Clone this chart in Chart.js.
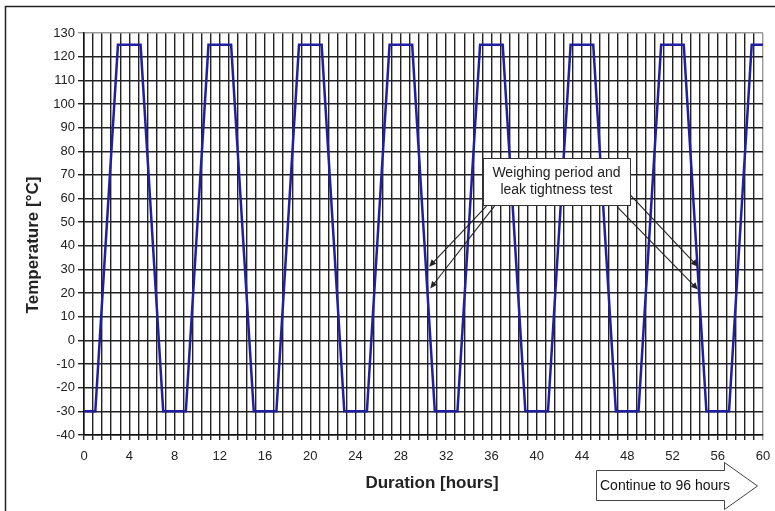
<!DOCTYPE html>
<html>
<head>
<meta charset="utf-8">
<script src="https://cdn.jsdelivr.net/npm/chart.js@4"></script>
<style>
  html, body { margin: 0; padding: 0; background: #fff; }
  #wrap { width: 775px; height: 511px; }
</style>
</head>
<body>
<div id="wrap"><canvas id="tempChart" width="775" height="511"></canvas></div>
<script>
// temperature cycle
const hours = [0, 1, 3, 5, 7, 9, 11, 13, 15, 17, 19, 21, 23, 25, 27, 29, 31, 33, 35, 37, 39, 41, 43, 45, 47, 49, 51, 53, 55, 57, 59, 60];
const temps = [-30, -30, 125, 125, -30, -30, 125, 125, -30, -30, 125, 125, -30, -30, 125, 125, -30, -30, 125, 125, -30, -30, 125, 125, -30, -30, 125, 125, -30, -30, 125, 125];

const xTitle = 'Duration [hours]';
const yTitle = 'Temperature [°C]';
const noteLines = ['Weighing period and', 'leak tightness test'];
const continueText = 'Continue to 96 hours';

// annotation placement, in data units
const noteBox = { x0: 35.25, x1: 48.25, yTop: 77, yBottom: 57 };
const noteArrows = [
    [35.6, 57, 30.5, 31.2],
    [36.3, 57, 30.6, 22],
    [48.25, 61.6, 54.25, 31.2],
    [47.1, 56.6, 54.25, 21.5]
];

const FONT = '"Liberation Sans", Arial, sans-serif';

function arrow(ctx, x1, y1, x2, y2) {
    const a = Math.atan2(y2 - y1, x2 - x1);
    const len = 7, w = 3.2;
    ctx.beginPath();
    ctx.moveTo(x1, y1);
    ctx.lineTo(x2 - Math.cos(a) * len * 0.8, y2 - Math.sin(a) * len * 0.8);
    ctx.stroke();
    ctx.beginPath();
    ctx.moveTo(x2, y2);
    ctx.lineTo(x2 - Math.cos(a) * len + Math.sin(a) * w, y2 - Math.sin(a) * len - Math.cos(a) * w);
    ctx.lineTo(x2 - Math.cos(a) * len - Math.sin(a) * w, y2 - Math.sin(a) * len + Math.cos(a) * w);
    ctx.closePath();
    ctx.fill();
}

const decorations = {
    id: 'decorations',
    beforeDraw(chart) {
        const ctx = chart.ctx;
        ctx.save();
        ctx.fillStyle = '#fff';
        ctx.fillRect(0, 0, chart.width, chart.height);
        ctx.strokeStyle = '#222';
        ctx.lineWidth = 1.5;
        ctx.beginPath();
        ctx.moveTo(5.5, chart.height);
        ctx.lineTo(5.5, 6.5);
        ctx.lineTo(chart.width, 6.5);
        ctx.stroke();
        ctx.restore();
    },
    afterDraw(chart) {
        const ctx = chart.ctx;
        const x = chart.scales.x, y = chart.scales.y;
        ctx.save();

        // axis titles
        ctx.fillStyle = '#222';
        ctx.font = 'bold 17px ' + FONT;
        ctx.textAlign = 'center';
        ctx.textBaseline = 'middle';
        ctx.fillText(xTitle, 432, 483);
        ctx.save();
        ctx.translate(33, 245);
        ctx.rotate(-Math.PI / 2);
        ctx.fillText(yTitle, 0, 0);
        ctx.restore();

        // arrows to the weighing points
        ctx.strokeStyle = '#222';
        ctx.fillStyle = '#222';
        ctx.lineWidth = 1.1;
        noteArrows.forEach(a => {
            arrow(ctx, x.getPixelForValue(a[0]), y.getPixelForValue(a[1]),
                x.getPixelForValue(a[2]), y.getPixelForValue(a[3]));
        });

        // note box
        const bx = x.getPixelForValue(noteBox.x0), bx1 = x.getPixelForValue(noteBox.x1);
        const by = y.getPixelForValue(noteBox.yTop), by1 = y.getPixelForValue(noteBox.yBottom);
        ctx.fillStyle = '#fff';
        ctx.fillRect(bx, by, bx1 - bx, by1 - by);
        ctx.strokeStyle = '#333';
        ctx.lineWidth = 1;
        ctx.strokeRect(Math.round(bx) + 0.5, Math.round(by) + 0.5, Math.round(bx1 - bx), Math.round(by1 - by));
        ctx.fillStyle = '#222';
        ctx.font = '14px ' + FONT;
        const cx = (bx + bx1) / 2, cy = (by + by1) / 2;
        ctx.fillText(noteLines[0], cx, cy - 8.5);
        ctx.fillText(noteLines[1], cx, cy + 8.5);

        // block arrow under the axis
        ctx.beginPath();
        ctx.moveTo(596.5, 470.5);
        ctx.lineTo(724.5, 470.5);
        ctx.lineTo(724.5, 462.5);
        ctx.lineTo(757.5, 486);
        ctx.lineTo(724.5, 509.5);
        ctx.lineTo(724.5, 500.5);
        ctx.lineTo(596.5, 500.5);
        ctx.closePath();
        ctx.fillStyle = '#fff';
        ctx.fill();
        ctx.strokeStyle = '#444';
        ctx.lineWidth = 1;
        ctx.stroke();
        ctx.fillStyle = '#111';
        ctx.textAlign = 'left';
        ctx.fillText(continueText, 600, 486);

        ctx.restore();
    }
};

const ctx = document.getElementById('tempChart').getContext('2d');
new Chart(ctx, {
    type: 'line',
    data: {
        datasets: [{
            data: hours.map((h, i) => ({ x: h, y: temps[i] })),
            borderColor: '#1f1fa0',
            borderWidth: 2.5,
            pointRadius: 0,
            tension: 0,
            fill: false
        }]
    },
    options: {
        responsive: false,
        animation: false,
        layout: { padding: { left: 0, right: 12, top: 33, bottom: 0 } },
        plugins: {
            legend: { display: false },
            tooltip: { enabled: false }
        },
        scales: {
            x: {
                type: 'linear',
                min: 0,
                max: 60,
                afterFit: (s) => { s.height = 76; s.paddingRight = 0; s.paddingLeft = 0; },
                ticks: {
                    stepSize: 0.8,
                    autoSkip: false,
                    maxRotation: 0,
                    padding: 9,
                    color: '#222',
                    font: { family: FONT, size: 13 },
                    callback: (v) => Math.abs(v / 4 - Math.round(v / 4)) < 1e-6 ? Math.round(v) : ''
                },
                grid: {
                    color: (c) => (c.tick && c.tick.value === 60) ? '#999' : '#222',
                    lineWidth: 1.4,
                    tickLength: 5
                },
                border: { color: '#111', width: 1.5 }
            },
            y: {
                min: -40,
                max: 130,
                afterFit: (s) => { s.width = 84; },
                ticks: {
                    stepSize: 10,
                    padding: 3,
                    color: '#222',
                    font: { family: FONT, size: 13 }
                },
                grid: {
                    color: (c) => (c.tick && c.tick.value === 130) ? '#999' : '#222',
                    lineWidth: 1.4,
                    tickLength: 6
                },
                border: { color: '#111', width: 1.5 }
            }
        }
    },
    plugins: [decorations]
});
</script>
</body>
</html>
